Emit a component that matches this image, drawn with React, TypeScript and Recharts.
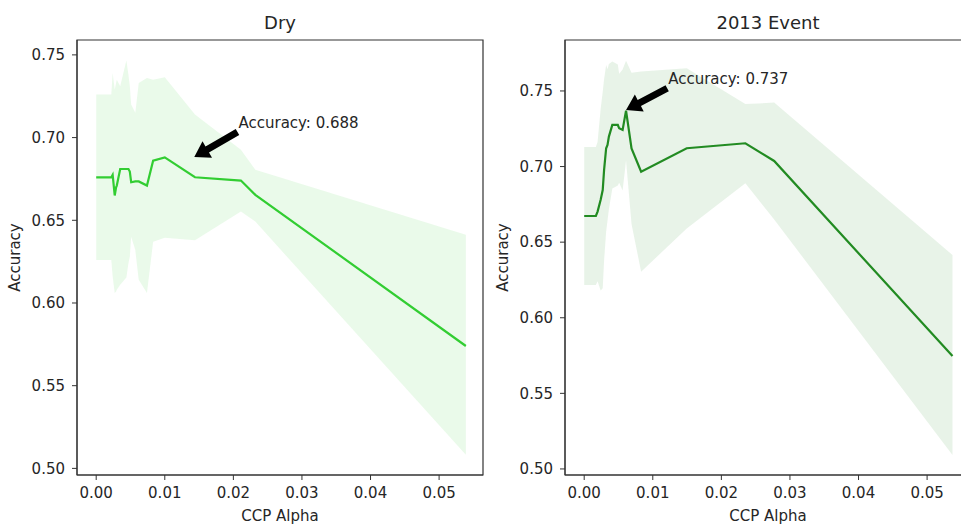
import { ComposedChart, Area, Line, XAxis, YAxis, ReferenceArea, ReferenceLine } from "recharts";

// Dry panel
const dryAlpha = [0, 0.0022, 0.0024, 0.0027, 0.0029, 0.003, 0.0035, 0.0044, 0.0047, 0.0049, 0.0051, 0.0057, 0.0062, 0.0074, 0.0083, 0.01, 0.0144, 0.0211, 0.0232, 0.0539];
const dryMean = [0.676, 0.676, 0.6775, 0.665, 0.67, 0.671, 0.681, 0.681, 0.681, 0.6795, 0.673, 0.6735, 0.6735, 0.671, 0.686, 0.688, 0.676, 0.674, 0.6654, 0.574];
const dryUpper = [0.726, 0.726, 0.739, 0.729, 0.733, 0.735, 0.731, 0.7466, 0.738, 0.731, 0.72, 0.715, 0.733, 0.736, 0.735, 0.7365, 0.714, 0.6927, 0.6805, 0.6412];
const dryLower = [0.626, 0.626, 0.616, 0.606, 0.607, 0.608, 0.611, 0.6154, 0.624, 0.628, 0.64, 0.632, 0.614, 0.606, 0.637, 0.6395, 0.638, 0.6553, 0.6492, 0.5082];

// 2013 Event panel
const eventAlpha = [0, 0.0017, 0.00195, 0.0024, 0.0027, 0.0029, 0.0032, 0.0034, 0.0036, 0.0041, 0.0049, 0.0051, 0.0056, 0.0061, 0.0069, 0.0083, 0.01495, 0.0235, 0.0277, 0.0537];
const eventMean = [0.6673, 0.6673, 0.6702, 0.678, 0.6845, 0.6978, 0.7121, 0.7143, 0.7198, 0.7275, 0.7275, 0.7253, 0.7242, 0.737, 0.712, 0.6966, 0.7121, 0.7154, 0.7037, 0.5747];
const eventUpper = [0.713, 0.713, 0.7162, 0.738, 0.7495, 0.7578, 0.7671, 0.7643, 0.7678, 0.7695, 0.7675, 0.7613, 0.7642, 0.77, 0.762, 0.7628, 0.765, 0.7413, 0.7423, 0.6415];
const eventLower = [0.6216, 0.6216, 0.6242, 0.618, 0.6195, 0.6378, 0.6571, 0.6643, 0.6718, 0.6855, 0.6875, 0.6893, 0.6842, 0.704, 0.662, 0.6305, 0.659, 0.689, 0.665, 0.5093];

const xTicks = [0, 0.01, 0.02, 0.03, 0.04, 0.05];
const yTicks = [0.5, 0.55, 0.6, 0.65, 0.7, 0.75];

const dryBest = { tip: [0.0143, 0.6883], tail: [0.0206, 0.7034], text: "Accuracy: 0.688" };
const eventBest = { tip: [0.0061, 0.7374], tail: [0.0121, 0.7518], text: "Accuracy: 0.737" };

const xDomain = [-0.0028, 0.0564];
const ink = "#262626";

function buildRows(alpha: number[], mean: number[], lower: number[], upper: number[]) {
  return alpha.map((a, i) => ({ alpha: a, mean: mean[i], band: [lower[i], upper[i]] }));
}

const fmt = (v: number) => v.toFixed(2);

// black fancy arrow like matplotlib's annotate, plus its text
function ArrowShape(props: any) {
  const { x1, y1, x2, y2, text } = props;
  const dx = x2 - x1;
  const dy = y2 - y1;
  const len = Math.sqrt(dx * dx + dy * dy) || 1;
  const ux = dx / len, uy = dy / len;
  const nx = -uy, ny = ux;
  const sw = 3.5, hw = 9.5, hl = 15;
  const neckX = x2 - ux * hl, neckY = y2 - uy * hl;
  const pts = [
    [x1 + nx * sw, y1 + ny * sw],
    [neckX + nx * sw, neckY + ny * sw],
    [neckX + nx * hw, neckY + ny * hw],
    [x2, y2],
    [neckX - nx * hw, neckY - ny * hw],
    [neckX - nx * sw, neckY - ny * sw],
    [x1 - nx * sw, y1 - ny * sw],
  ];
  return (
    <g>
      <polygon points={pts.map((p) => p.join(",")).join(" ")} fill="#000" />
      <text x={x1 + 1} y={y1 - 4} fontSize={15} fill={ink}>{text}</text>
    </g>
  );
}

function Panel({ left, title, rows, color, yDomain, best }: any) {
  return (
    <div style={{ position: "absolute", left, top: 0, width: 490, height: 525 }}>
      <div style={{ position: "absolute", left: 77, width: 406, top: 12, textAlign: "center", fontSize: 18, lineHeight: "22px", color: ink }}>
        {title}
      </div>
      <ComposedChart width={490} height={525} data={rows} margin={{ top: 40, right: 7, bottom: 0, left: 0 }}>
        <XAxis
          dataKey="alpha"
          type="number"
          domain={xDomain}
          allowDataOverflow
          ticks={xTicks}
          interval={0}
          tickFormatter={fmt}
          height={50}
          tickSize={5}
          tickMargin={7}
          stroke="#333"
          tick={{ fontSize: 15, fill: ink }}
          label={{ value: "CCP Alpha", position: "insideBottom", offset: 4, fontSize: 15, fill: ink }}
        />
        <YAxis
          type="number"
          domain={yDomain}
          allowDataOverflow
          ticks={yTicks}
          interval={0}
          tickFormatter={fmt}
          width={77}
          tickSize={5}
          tickMargin={7}
          stroke="#333"
          tick={{ fontSize: 15, fill: ink }}
          label={{ value: "Accuracy", angle: -90, position: "insideLeft", offset: 15, fontSize: 15, fill: ink, style: { textAnchor: "middle" } }}
        />
        <Area dataKey="band" type="linear" stroke="none" fill={color} fillOpacity={0.1} isAnimationActive={false} />
        <Line dataKey="mean" type="linear" stroke={color} strokeWidth={2.2} dot={false} isAnimationActive={false} />
        <ReferenceArea
          x1={xDomain[0]}
          x2={xDomain[1]}
          y1={yDomain[0]}
          y2={yDomain[1]}
          fill="none"
          fillOpacity={0}
          stroke="#333"
          strokeWidth={1.2}
          strokeOpacity={1}
          ifOverflow="visible"
        />
        <ReferenceLine
          segment={[{ x: best.tail[0], y: best.tail[1] }, { x: best.tip[0], y: best.tip[1] }]}
          ifOverflow="visible"
          shape={(p: any) => <ArrowShape {...p} text={best.text} />}
        />
      </ComposedChart>
    </div>
  );
}

export default function App() {
  const dryRows = buildRows(dryAlpha, dryMean, dryLower, dryUpper);
  const eventRows = buildRows(eventAlpha, eventMean, eventLower, eventUpper);
  return (
    <div style={{ position: "fixed", left: 0, top: 0, width: 961, height: 525, overflow: "hidden", background: "#fff", fontFamily: "'DejaVu Sans', sans-serif" }}>
      <Panel left={0} title="Dry" rows={dryRows} color="#32cd32" yDomain={[0.496, 0.759]} best={dryBest} />
      <Panel left={488} title="2013 Event" rows={eventRows} color="#228b22" yDomain={[0.496, 0.7837]} best={eventBest} />
    </div>
  );
}
